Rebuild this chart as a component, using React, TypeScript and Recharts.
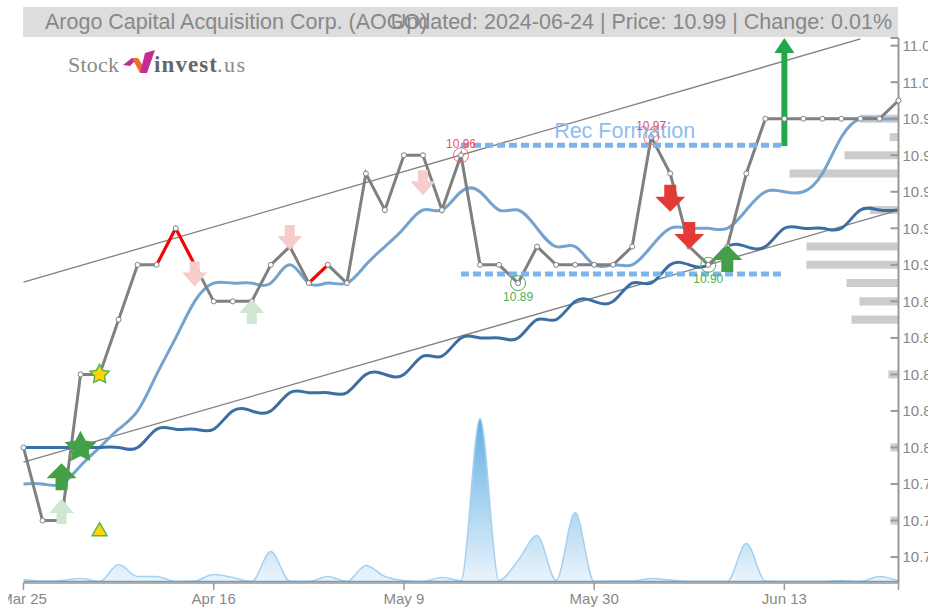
import {
  Area,
  ComposedChart,
  Line,
  ReferenceArea,
  ReferenceDot,
  ReferenceLine,
  XAxis,
  YAxis,
} from 'recharts'

const FONT = '"Liberation Sans", Arial, sans-serif'

const dates = [
  'Mar 25', 'Mar 26', 'Mar 27', 'Mar 28', 'Apr 1', 'Apr 3', 'Apr 5', 'Apr 9', 'Apr 11', 'Apr 15',
  'Apr 16', 'Apr 18', 'Apr 19', 'Apr 22', 'Apr 24', 'Apr 26', 'Apr 29', 'May 1', 'May 3', 'May 7',
  'May 9', 'May 10', 'May 13', 'May 15', 'May 16', 'May 17', 'May 20', 'May 22', 'May 24', 'May 28',
  'May 30', 'May 31', 'Jun 3', 'Jun 4', 'Jun 5', 'Jun 6', 'Jun 7', 'Jun 10', 'Jun 11', 'Jun 12',
  'Jun 13', 'Jun 14', 'Jun 17', 'Jun 18', 'Jun 20', 'Jun 21', 'Jun 24',
]

const precos = [
  10.8, 10.76, 10.76, 10.84, 10.84, 10.87, 10.9, 10.9, 10.92, 10.9,
  10.88, 10.88, 10.88, 10.9, 10.91, 10.89, 10.9, 10.89, 10.95, 10.93,
  10.96, 10.96, 10.93, 10.96, 10.9, 10.9, 10.89, 10.91, 10.9, 10.9,
  10.9, 10.9, 10.91, 10.97, 10.95, 10.91, 10.9, 10.91, 10.95, 10.98,
  10.98, 10.98, 10.98, 10.98, 10.98, 10.98, 10.99,
]

const mediaCurta = [
  10.78, 10.78, 10.78, 10.79, 10.8, 10.81, 10.82, 10.84, 10.86, 10.88,
  10.89, 10.89, 10.89, 10.89, 10.9, 10.89, 10.89, 10.89, 10.9, 10.91,
  10.92, 10.93, 10.93, 10.94, 10.94, 10.93, 10.93, 10.92, 10.91, 10.91,
  10.9, 10.9, 10.9, 10.91, 10.92, 10.92, 10.92, 10.92, 10.93, 10.94,
  10.94, 10.94, 10.95, 10.97, 10.98, 10.98, 10.98,
]

const mediaLonga = [
  10.8, 10.8, 10.8, 10.8, 10.8, 10.8, 10.8, 10.81, 10.81, 10.81,
  10.81, 10.82, 10.82, 10.82, 10.83, 10.83, 10.83, 10.83, 10.84, 10.84,
  10.84, 10.85, 10.85, 10.86, 10.86, 10.86, 10.86, 10.87, 10.87, 10.88,
  10.88, 10.88, 10.89, 10.89, 10.9, 10.9, 10.9, 10.91, 10.91, 10.91,
  10.92, 10.92, 10.92, 10.92, 10.93, 10.93, 10.93,
]

const volumes = [
  2, 0.5, 1, 3, 0, 17, 5, 5, 0, 0.5,
  7, 4, 0, 30, 0.5, 0, 5, 0, 16, 5,
  1, 0, 4, 1, 163, 1, 21, 46, 1, 69,
  0, 0.5, 0.5, 3, 1.5, 0, 0, 0, 38, 0.5,
  0, 0, 0, 1, 0, 5, 0.5,
]

// trechos do preco desenhados em vermelho
const trechosVermelhos = [7, 8, 9, 15, 16]

const perfilNiveis = [10.98, 10.97, 10.96, 10.95, 10.93, 10.91, 10.9, 10.89, 10.88, 10.87, 10.84, 10.8, 10.76]
const perfilTamanhos = [2, 0.47, 2.84, 5.73, 1.5, 4.84, 4.84, 2.73, 2.05, 2.47, 0.53, 0.42, 0.42]

const ticksY = [10.74, 10.76, 10.78, 10.8, 10.82, 10.84, 10.86, 10.88, 10.9, 10.92, 10.94, 10.96, 10.98, 11, 11.02, 11.0242]
const ticksX = [dates[0], dates[10], dates[20], dates[30], dates[40], dates[46]]

const setasClarasBaixo = [{ i: 9, v: 10.895 }, { i: 14, v: 10.915 }, { i: 21, v: 10.945 }]
const setasClarasCima = [{ i: 12, v: 10.8745 }, { i: 2, v: 10.765 }]
const setasVerdes = [{ i: 2, v: 10.784 }, { i: 37, v: 10.9035 }]
const setasVermelhas = [{ i: 34, v: 10.9365 }, { i: 35, v: 10.916 }]

const topos = [{ i: 23, v: 10.96 }, { i: 33, v: 10.97 }]
const fundos = [{ i: 26, v: 10.89 }, { i: 36, v: 10.9 }]

const dados = dates.map((date, i) => ({
  date,
  preco: precos[i],
  precoVermelho: trechosVermelhos.includes(i) ? precos[i] : null,
  mediaCurta: mediaCurta[i],
  mediaLonga: mediaLonga[i],
  volume: volumes[i],
}))

function seta(cx: number, cy: number, para: 'cima' | 'baixo', cor: string, w = 30, h = 27) {
  const s = para === 'cima' ? -1 : 1
  const topo = cy - (s * h) / 2
  const base = cy + (s * h) / 2
  const meio = cy - s * 1.5
  const pontos = [
    [cx - w / 5, topo],
    [cx + w / 5, topo],
    [cx + w / 5, meio],
    [cx + w / 2, meio],
    [cx, base],
    [cx - w / 2, meio],
    [cx - w / 5, meio],
  ]
  return <polygon points={pontos.map((p) => p.join(',')).join(' ')} fill={cor} />
}

function estrela(cx: number, cy: number, r: number, fill: string, stroke: string) {
  const pontos = []
  for (let k = 0; k < 10; k++) {
    const raio = k % 2 === 0 ? r : r * 0.52
    const ang = -Math.PI / 2 + (k * Math.PI) / 5
    pontos.push(`${cx + raio * Math.cos(ang)},${cy + raio * Math.sin(ang)}`)
  }
  return <polygon points={pontos.join(' ')} fill={fill} stroke={stroke} strokeWidth={1.5} />
}

function Logo() {
  return (
    <svg width={200} height={40} style={{ position: 'absolute', left: 50, top: 44 }} viewBox="58 44 200 40">
      <text x={68} y={72} fontFamily="Liberation Serif" fontSize={22} fill="#8a8a8a" textLength={51}>Stock</text>
      <polygon points="123,65 132,58 138,58 130,66" fill="#b5309a" />
      <polygon points="132,58 138,58 147,72 140,73" fill="#ef6a2c" />
      <polygon points="140,73 147,73 155,50 145,53" fill="#c22c93" />
      <text x={154} y={72} fontFamily="Liberation Serif" fontWeight="bold" fontSize={23} fill="#666" textLength={63}>invest</text>
      <text x={217} y={72} fontFamily="Liberation Serif" fontSize={22} fill="#8a8a8a" textLength={28}>.us</text>
    </svg>
  )
}

export default function App() {
  return (
    <div style={{ position: 'absolute', left: 8, top: 0, width: 920, height: 608 }}>
      <ComposedChart
        width={920}
        height={608}
        data={dados}
        margin={{ top: 38, right: 0, bottom: 0, left: 15.5 }}
        style={{ fontFamily: FONT }}
      >
        <defs>
          <linearGradient id="gradVolume" x1="0" y1="0" x2="0" y2="1">
            <stop offset="0%" stopColor="#62aee2" />
            <stop offset="100%" stopColor="#eaf4fc" />
          </linearGradient>
        </defs>
        <XAxis
          dataKey="date"
          scale="point"
          height={25}
          ticks={ticksX}
          interval={0}
          tickFormatter={(d: string) => (d === dates[46] ? '' : d)}
          stroke="#999"
          strokeWidth={1.5}
          tick={{ fill: '#888', fontSize: 15 }}
          tickSize={7}
          tickMargin={3}
        />
        <XAxis xAxisId="perfil" type="number" domain={[0, 46]} reversed hide />
        <YAxis
          orientation="right"
          width={29.5}
          domain={[10.7258, 11.0242]}
          allowDataOverflow
          ticks={ticksY}
          interval={0}
          tickFormatter={(v: number) => (v > 11.021 ? '' : v.toFixed(2))}
          stroke="#999"
          strokeWidth={2}
          tick={{ fill: '#888', fontSize: 15 }}
          tickSize={-8}
          tickMargin={12}
        />
        <YAxis yAxisId="volume" hide domain={[-1.5, 544]} />

        {perfilNiveis.map((nivel, i) => (
          <ReferenceArea
            key={nivel}
            xAxisId="perfil"
            x1={0}
            x2={perfilTamanhos[i]}
            y1={nivel - 0.0022}
            y2={nivel + 0.0022}
            fill="#cccccc"
            fillOpacity={1}
            stroke="none"
          />
        ))}

        <Area
          yAxisId="volume"
          dataKey="volume"
          type="monotone"
          stroke="#a6d2f1"
          strokeWidth={1.5}
          fill="url(#gradVolume)"
          fillOpacity={1}
          dot={false}
          activeDot={false}
          isAnimationActive={false}
        />
        <ReferenceLine yAxisId="volume" y={0} stroke="#6a9fce" strokeWidth={1.5} />

        <ReferenceLine
          segment={[{ x: dates[0], y: 10.8905 }, { x: dates[44], y: 11.0237 }]}
          stroke="#808080"
          strokeWidth={1.3}
          ifOverflow="visible"
        />
        <ReferenceLine
          segment={[{ x: dates[0], y: 10.792 }, { x: dates[46], y: 10.93 }]}
          stroke="#808080"
          strokeWidth={1.3}
          ifOverflow="visible"
        />

        <Line dataKey="mediaCurta" type="natural" stroke="#74a3cf" strokeWidth={3} dot={false} activeDot={false} isAnimationActive={false} />
        <Line dataKey="mediaLonga" type="natural" stroke="#3b6fa3" strokeWidth={3} dot={false} activeDot={false} isAnimationActive={false} />
        <Line dataKey="preco" type="linear" stroke="#808080" strokeWidth={3} dot={false} activeDot={false} isAnimationActive={false} />
        <Line dataKey="precoVermelho" type="linear" stroke="#ff0000" strokeWidth={3} dot={false} activeDot={false} isAnimationActive={false} />
        <Line
          dataKey="preco"
          type="linear"
          stroke="none"
          dot={{ r: 2.5, fill: '#fff', stroke: '#808080', strokeWidth: 1 }}
          activeDot={false}
          isAnimationActive={false}
        />

        <ReferenceLine
          segment={[{ x: dates[23], y: 10.9655 }, { x: dates[40], y: 10.9655 }]}
          stroke="#7cb5ec"
          strokeWidth={5}
          strokeDasharray="8 4"
        />
        <ReferenceLine
          segment={[{ x: dates[23], y: 10.895 }, { x: dates[40], y: 10.895 }]}
          stroke="#7cb5ec"
          strokeWidth={5}
          strokeDasharray="8 4"
        />
        <ReferenceDot
          x={dates[29]}
          y={10.9655}
          shape={({ cx, cy }: any) => (
            <text x={cx + 49.5} y={cy - 7} textAnchor="middle" fontFamily={FONT} fontSize={21.5} fill="#90bdf0">Rec Formation</text>
          )}
        />

        {setasClarasBaixo.map((m) => (
          <ReferenceDot key={m.i} x={dates[m.i]} y={m.v} shape={({ cx, cy }: any) => seta(cx, cy, 'baixo', '#f6cccc', 25, 25)} />
        ))}
        {setasClarasCima.map((m) => (
          <ReferenceDot key={m.i} x={dates[m.i]} y={m.v} shape={({ cx, cy }: any) => seta(cx, cy, 'cima', '#cfe6d2', 25, 25)} />
        ))}
        {setasVerdes.map((m) => (
          <ReferenceDot key={m.i} x={dates[m.i]} y={m.v} shape={({ cx, cy }: any) => seta(cx, cy, 'cima', '#43a047')} />
        ))}
        {setasVermelhas.map((m) => (
          <ReferenceDot key={m.i} x={dates[m.i]} y={m.v} shape={({ cx, cy }: any) => seta(cx, cy, 'baixo', '#e53935')} />
        ))}

        <ReferenceDot x={dates[3]} y={10.8} shape={({ cx, cy }: any) => estrela(cx, cy, 15, '#43a047', '#43a047')} />
        <ReferenceDot x={dates[4]} y={10.84} shape={({ cx, cy }: any) => estrela(cx, cy, 10, '#ffd400', '#5cb25c')} />
        <ReferenceDot
          x={dates[4]}
          y={10.755}
          shape={({ cx, cy }: any) => (
            <polygon
              points={`${cx},${cy - 7} ${cx + 7.5},${cy + 6} ${cx - 7.5},${cy + 6}`}
              fill="#ffd400"
              stroke="#5cb25c"
              strokeWidth={1.5}
            />
          )}
        />

        <ReferenceLine
          segment={[{ x: dates[40], y: 10.965 }, { x: dates[40], y: 11.02 }]}
          stroke="#22a84a"
          strokeWidth={6}
        />
        <ReferenceDot
          x={dates[40]}
          y={11.0242}
          ifOverflow="visible"
          shape={({ cx, cy }: any) => (
            <polygon points={`${cx},${cy} ${cx + 10},${cy + 15} ${cx - 10},${cy + 15}`} fill="#22a84a" />
          )}
        />

        {topos.map((m) => (
          <ReferenceDot
            key={m.i}
            x={dates[m.i]}
            y={m.v}
            shape={({ cx, cy }: any) => (
              <g>
                <circle cx={cx} cy={cy} r={7.5} fill="none" stroke="#ef6b6b" strokeWidth={1} />
                <text x={cx} y={cy - 7} textAnchor="middle" fontFamily={FONT} fontSize={12} fill="#ef5350">{m.v.toFixed(2)}</text>
              </g>
            )}
          />
        ))}
        {fundos.map((m) => (
          <ReferenceDot
            key={m.i}
            x={dates[m.i]}
            y={m.v}
            shape={({ cx, cy }: any) => (
              <g>
                <circle cx={cx} cy={cy} r={7.5} fill="none" stroke="#4caf50" strokeWidth={1} />
                <text x={cx} y={cy + 18} textAnchor="middle" fontFamily={FONT} fontSize={12} fill="#4caf50">{m.v.toFixed(2)}</text>
              </g>
            )}
          />
        ))}
      </ComposedChart>

      <div style={{ position: 'absolute', left: 15, top: 7, width: 875, height: 30, background: '#dddddd' }} />
      <span style={{ position: 'absolute', left: 37, top: 10, fontFamily: FONT, fontSize: 21.5, color: '#888', whiteSpace: 'nowrap' }}>
        Arogo Capital Acquisition Corp. (AOGO)
      </span>
      <span style={{ position: 'absolute', right: 36, top: 10, fontFamily: FONT, fontSize: 21.5, color: '#888', whiteSpace: 'nowrap' }}>
        Updated: 2024-06-24 | Price: 10.99 | Change: 0.01%
      </span>
      <Logo />
    </div>
  )
}
